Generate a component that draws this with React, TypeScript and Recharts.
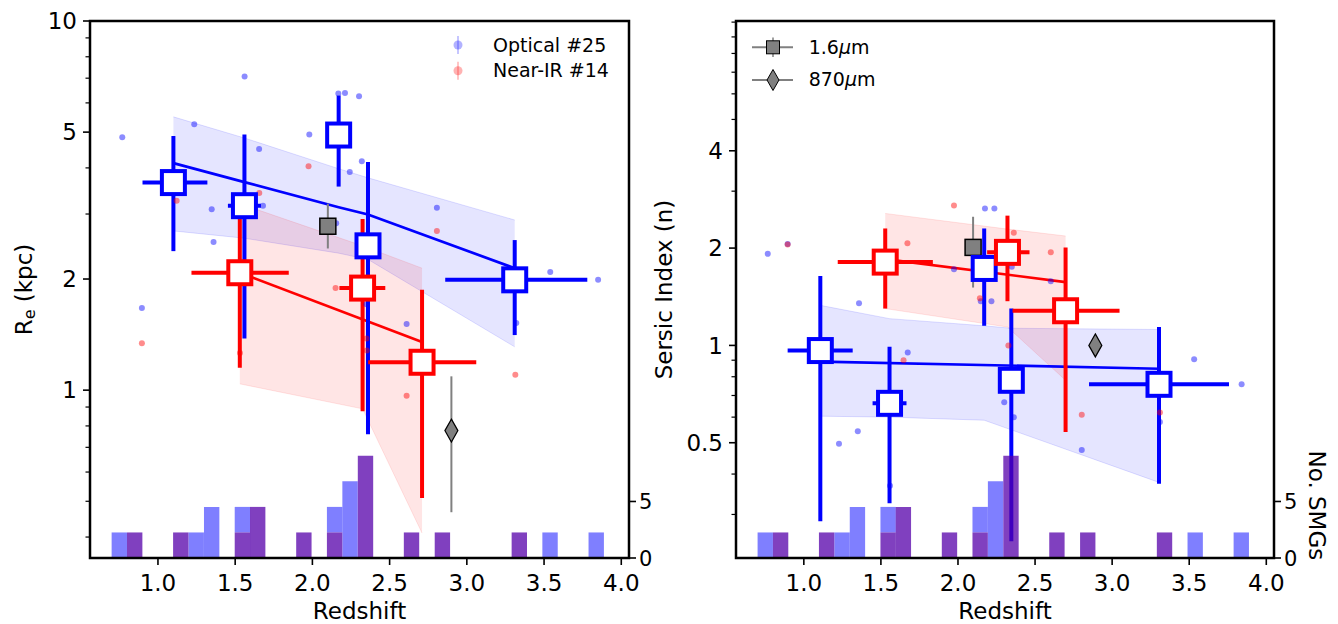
import React from 'react';
import { ComposedChart, XAxis, YAxis, Scatter, Line, Area, ErrorBar, ReferenceArea, Legend } from 'recharts';

const FONT = '"DejaVu Sans", Verdana, sans-serif';
const BLUE = '#0000ff';
const RED = '#ff0000';
const GRAY = '#808080';
const PURPLE = 'rgb(85,0,170)';

// ---------- shared axes ----------
const xTicks = [1.0, 1.5, 2.0, 2.5, 3.0, 3.5, 4.0];
const xDomain: [number, number] = [0.56, 4.05];

// ---------- redshift histograms (right axis "No. SMGs", heights read on that axis) ----------
const histBinWidth = 0.0996;
const histOptStart = [0.7, 0.7996, 1.198, 1.298, 1.497, 2.094, 2.194, 3.489, 3.788];
const histOptHeight = [2.26, 2.26, 2.26, 4.52, 4.52, 4.52, 6.78, 2.26, 2.26];
const histNirStart = [0.7996, 1.098, 1.497, 1.596, 1.895, 2.094, 2.294, 2.592, 2.792, 3.29];
const histNirHeight = [2.26, 2.26, 2.26, 4.52, 2.26, 2.26, 9.04, 2.26, 2.26, 2.26];
const histTicks = [0, 5];
const histDomain: [number, number] = [0, 47.5];

// ---------- left panel: effective radius (kpc) ----------
const reDomain: [number, number] = [0.351, 10];
const reTicks = [0.4, 0.5, 0.6, 0.7, 0.8, 0.9, 1, 2, 3, 4, 5, 6, 7, 8, 9, 10];
const reTickLabels = [1, 2, 5, 10];

const reOptZ = [1.1, 1.56, 2.17, 2.36, 3.31];
const reOpt = [3.65, 3.16, 4.91, 2.46, 1.99];
const reOptLo = [2.38, 1.38, 3.56, 0.76, 1.41];
const reOptHi = [4.88, 4.93, 6.28, 4.15, 2.55];
const reOptZLo = [0.9, 1.453, 2.12, 2.31, 2.86];
const reOptZHi = [1.32, 1.667, 2.22, 2.41, 3.78];

const reNirZ = [1.53, 2.325, 2.71];
const reNir = [2.08, 1.89, 1.19];
const reNirLo = [1.15, 0.877, 0.51];
const reNirHi = [2.91, 2.91, 1.87];
const reNirZLo = [1.217, 2.175, 2.361];
const reNirZHi = [1.847, 2.472, 3.061];

const re16Z = [2.1];
const re16 = [2.78];
const re16Lo = [2.42];
const re16Hi = [3.2];
const re870Z = [2.9];
const re870 = [0.777];
const re870Lo = [0.467];
const re870Hi = [1.09];

const reOptFitZ = [1.1, 1.56, 2.17, 2.36, 3.31];
const reOptFit = [4.12, 3.66, 3.13, 2.99, 2.14];
const reOptBandHi = [5.5, 4.82, 3.98, 3.76, 2.89];
const reOptBandLo = [2.7, 2.58, 2.35, 2.26, 1.31];

const reNirFitZ = [1.53, 2.71];
const reNirFit = [2.08, 1.35];
const reNirBandZ = [1.53, 2.325, 2.71];
const reNirBandHi = [3.2, 2.46, 2.14];
const reNirBandLo = [1.04, 0.89, 0.41];

const reOptDotZ = [0.769, 0.896, 1.235, 1.348, 1.36, 1.561, 1.655, 1.68, 1.98, 2.154, 2.168, 2.211, 2.242, 2.302, 2.32, 2.35, 2.61, 2.806, 3.32, 3.54, 3.85];
const reOptDot = [4.84, 1.67, 5.25, 3.09, 2.52, 7.07, 4.5, 3.16, 4.93, 2.83, 6.36, 6.38, 3.9, 6.25, 4.17, 1.71, 1.51, 3.12, 1.52, 2.09, 1.99];
const reNirDotZ = [0.896, 1.121, 1.531, 1.656, 1.975, 2.15, 2.35, 2.352, 2.61, 2.806, 3.314];
const reNirDot = [1.34, 3.26, 1.26, 3.42, 4.04, 1.89, 1.38, 1.28, 0.965, 2.7, 1.1];

// ---------- right panel: Sersic index ----------
const nDomain: [number, number] = [0.22, 10.08];
const nTicks = [0.3, 0.4, 0.5, 0.6, 0.7, 0.8, 0.9, 1, 2, 3, 4, 5, 6, 7, 8, 9, 10];
const nTickLabels = [0.5, 1, 2, 4];

const nOptZ = [1.107, 1.556, 2.17, 2.346, 3.304];
const nOpt = [0.964, 0.662, 1.73, 0.78, 0.758];
const nOptLo = [0.286, 0.325, 1.15, 0.248, 0.373];
const nOptHi = [1.64, 0.99, 2.3, 1.3, 1.14];
const nOptZLo = [0.895, 1.446, 2.12, 2.3, 2.85];
const nOptZHi = [1.317, 1.666, 2.22, 2.39, 3.758];

const nNirZ = [1.528, 2.321, 2.698];
const nNir = [1.81, 1.94, 1.28];
const nNirLo = [1.3, 1.37, 0.54];
const nNirHi = [2.3, 2.52, 2.01];
const nNirZLo = [1.22, 2.189, 2.354];
const nNirZHi = [1.837, 2.464, 3.048];

const n16Z = [2.098];
const n16 = [2.01];
const n16Lo = [1.51];
const n16Hi = [2.5];
const n870Z = [2.891];
const n870 = [1.0];
const n870Lo = [0.93];
const n870Hi = [1.04];

const nOptFitZ = [1.107, 3.304];
const nOptFit = [0.891, 0.847];
const nOptBandZ = [1.107, 1.556, 2.17, 2.346, 3.304];
const nOptBandHi = [1.33, 1.21, 1.15, 1.13, 1.12];
const nOptBandLo = [0.604, 0.6, 0.587, 0.548, 0.377];

const nNirFitZ = [1.528, 2.698];
const nNirFit = [1.85, 1.57];
const nNirBandZ = [1.528, 2.321, 2.698];
const nNirBandHi = [2.56, 2.29, 2.18];
const nNirBandLo = [1.3, 1.14, 0.78];

const nOptDotZ = [0.766, 0.895, 1.228, 1.35, 1.358, 1.559, 1.674, 1.974, 2.148, 2.175, 2.217, 2.236, 2.3, 2.349, 2.362, 2.602, 2.803, 3.31, 3.532, 3.84];
const nOptDot = [1.92, 2.06, 0.496, 0.543, 1.35, 0.368, 0.95, 1.72, 1.37, 2.65, 1.37, 2.65, 0.667, 1.75, 0.6, 1.58, 0.475, 0.58, 0.906, 0.758];
const nNirDotZ = [0.895, 1.107, 1.647, 1.672, 1.974, 2.142, 2.327, 2.362, 2.602, 2.803, 3.31];
const nNirDot = [2.05, 1.03, 0.9, 2.07, 2.71, 1.4, 1.0, 2.23, 1.94, 0.61, 0.62];

// ---------- helpers to build library data ----------
const pts = (z: number[], v: number[]) => z.map((x, i) => ({ x, y: v[i] }));
const band = (z: number[], lo: number[], hi: number[]) => z.map((x, i) => ({ x, range: [lo[i], hi[i]] }));
const med = (z: number[], v: number[], zlo: number[], zhi: number[], lo: number[], hi: number[]) =>
  z.map((x, i) => ({ x, y: v[i], ex: [x - zlo[i], zhi[i] - x], ey: [v[i] - lo[i], hi[i] - v[i]] }));
const nirAt = (s: number) => {
  const i = histNirStart.findIndex((t) => Math.abs(t - s) < 1e-6);
  return i >= 0 ? histNirHeight[i] : 0;
};

// ---------- shapes & ticks ----------
const NoShape = () => <g />;
const squareShape = (color: string) => (p: any) => (
  <rect x={p.cx - 11.5} y={p.cy - 11.5} width={23} height={23} fill="#fff" stroke={color} strokeWidth={4} />
);
const GraySquare = (p: any) => (
  <rect x={p.cx - 8} y={p.cy - 8} width={16} height={16} fill={GRAY} stroke="#000" strokeWidth={1.5} />
);
const GrayDiamond = (p: any) => (
  <polygon
    points={`${p.cx},${p.cy - 11.5} ${p.cx + 6.5},${p.cy} ${p.cx},${p.cy + 11.5} ${p.cx - 6.5},${p.cy}`}
    fill={GRAY}
    stroke="#000"
    strokeWidth={1.2}
  />
);
const Dot = (color: string) => (p: any) => <circle cx={p.cx} cy={p.cy} r={3} fill={color} fillOpacity={0.45} />;

function LogTick(props: any) {
  const { x, y, payload, labels } = props;
  const v = payload.value;
  const isLab = labels.includes(v);
  const len = isLab ? 7 : 4.5;
  return (
    <g>
      <line x1={x - len} x2={x} y1={y} y2={y} stroke="#000" strokeWidth={isLab ? 1.6 : 1.2} />
      {isLab && (
        <text x={x - len - 6} y={y} dy="0.36em" textAnchor="end" fontSize={23} fontFamily={FONT} fill="#000">
          {String(v)}
        </text>
      )}
    </g>
  );
}
function HistTick(props: any) {
  const { x, y, payload } = props;
  return (
    <g>
      <line x1={x} x2={x + 7} y1={y} y2={y} stroke="#000" strokeWidth={1.6} />
      <text x={x + 10} y={y} dy="0.36em" textAnchor="start" fontSize={21} fontFamily={FONT} fill="#000">
        {String(payload.value)}
      </text>
    </g>
  );
}
function XTick(props: any) {
  const { x, y, payload } = props;
  return (
    <g>
      <line x1={x} x2={x} y1={y} y2={y + 7} stroke="#000" strokeWidth={1.6} />
      <text x={x} y={y + 33} textAnchor="middle" fontSize={23} fontFamily={FONT} fill="#000">
        {Number(payload.value).toFixed(1)}
      </text>
    </g>
  );
}

const legendLeftItems = [
  { label: 'Optical #25', color: BLUE },
  { label: 'Near-IR #14', color: RED },
];

function LeftLegend() {
  return (
    <svg width={200} height={62} style={{ overflow: 'visible', display: 'block' }}>
      {legendLeftItems.map((it, i) => {
        const cy = 15 + i * 25.7;
        return (
          <g key={it.label}>
            <line x1={18} x2={18} y1={cy - 9} y2={cy + 9} stroke={it.color} strokeOpacity={0.3} strokeWidth={1.5} />
            <circle cx={18} cy={cy} r={4.5} fill={it.color} fillOpacity={0.3} />
            <text x={53} y={cy + 6.7} fontSize={19} fontFamily={FONT} fill="#000">
              {it.label}
            </text>
          </g>
        );
      })}
    </svg>
  );
}

function RightLegend() {
  return (
    <svg width={200} height={70} style={{ overflow: 'visible', display: 'block' }}>
      <line x1={12} x2={53} y1={17.3} y2={17.3} stroke={GRAY} strokeWidth={2} />
      <line x1={33} x2={33} y1={7.5} y2={27} stroke={GRAY} strokeWidth={1.5} />
      <rect x={33 - 6.5} y={17.3 - 6.5} width={13} height={13} fill={GRAY} stroke="#000" strokeWidth={1} />
      <text x={68.7} y={24.3} fontSize={19} fontFamily={FONT} fill="#000">
        1.6<tspan fontStyle="italic">μ</tspan>m
      </text>
      <line x1={12} x2={53} y1={50} y2={50} stroke={GRAY} strokeWidth={2} />
      <polygon points={`33,39.5 39,50 33,60.5 27,50`} fill={GRAY} stroke="#000" strokeWidth={1} />
      <text x={68.7} y={55.7} fontSize={19} fontFamily={FONT} fill="#000">
        870<tspan fontStyle="italic">μ</tspan>m
      </text>
    </svg>
  );
}

type PanelProps = {
  width: number;
  yAxisWidth: number;
  hAxisWidth: number;
  yDomain: [number, number];
  yTicks: number[];
  yTickLabels: number[];
  yLabel: (cx: number, cy: number) => React.ReactNode;
  showHistLabel: boolean;
  optBand: any[];
  nirBand: any[];
  optFit: any[];
  nirFit: any[];
  optDots: any[];
  nirDots: any[];
  optMed: any[];
  nirMed: any[];
  m16: any[];
  m870: any[];
  legend: React.ReactNode;
  legendLeft: number;
};

function Panel(p: PanelProps) {
  const H = 624;
  return (
    <ComposedChart width={p.width} height={H} margin={{ top: 21, right: 0, bottom: 0, left: 0 }} style={{ fontFamily: FONT }}>
      <XAxis
        type="number"
        dataKey="x"
        domain={xDomain}
        allowDataOverflow
        ticks={xTicks}
        interval={0}
        height={66}
        tickSize={0}
        tickMargin={0}
        tickLine={false}
        axisLine={false}
        tick={<XTick />}
        label={{
          content: (props: any) => {
            const vb = props.viewBox || {};
            return (
              <text x={vb.x + vb.width / 2} y={vb.y + 61} textAnchor="middle" fontSize={23} fontFamily={FONT} fill="#000">
                Redshift
              </text>
            );
          },
        }}
      />
      <YAxis
        yAxisId="l"
        type="number"
        dataKey="y"
        scale="log"
        domain={p.yDomain}
        allowDataOverflow
        ticks={p.yTicks}
        interval={0}
        width={p.yAxisWidth}
        tickSize={0}
        tickMargin={0}
        tickLine={false}
        axisLine={false}
        tick={<LogTick labels={p.yTickLabels} />}
        label={{
          content: (props: any) => {
            const vb = props.viewBox || {};
            return p.yLabel(vb.x + 23.5, vb.y + vb.height / 2);
          },
        }}
      />
      <YAxis
        yAxisId="h"
        orientation="right"
        type="number"
        domain={histDomain}
        allowDataOverflow
        ticks={histTicks}
        interval={0}
        width={p.hAxisWidth}
        tickSize={0}
        tickMargin={0}
        tickLine={false}
        axisLine={false}
        tick={<HistTick />}
        label={
          p.showHistLabel
            ? {
                content: (props: any) => {
                  const vb = props.viewBox || {};
                  const cx = vb.x + 43;
                  const cy = 505.4;
                  return (
                    <text
                      x={cx}
                      y={cy}
                      transform={`rotate(90, ${cx}, ${cy})`}
                      textAnchor="middle"
                      dominantBaseline="central"
                      fontSize={23}
                      fontFamily={FONT}
                      fill="#000"
                    >
                      No. SMGs
                    </text>
                  );
                },
              }
            : undefined
        }
      />

      <Area yAxisId="l" data={p.optBand} dataKey="range" type="linear" fill={BLUE} fillOpacity={0.1} stroke={BLUE} strokeOpacity={0.12} strokeWidth={1} dot={false} activeDot={false} isAnimationActive={false} />
      <Area yAxisId="l" data={p.nirBand} dataKey="range" type="linear" fill={RED} fillOpacity={0.1} stroke={RED} strokeOpacity={0.1} strokeWidth={1} dot={false} activeDot={false} isAnimationActive={false} />

      <Scatter yAxisId="l" data={p.optDots} shape={Dot(BLUE)} isAnimationActive={false} />
      <Scatter yAxisId="l" data={p.nirDots} shape={Dot(RED)} isAnimationActive={false} />

      <Line yAxisId="l" data={p.optFit} dataKey="y" type="linear" stroke={BLUE} strokeWidth={2.7} dot={false} activeDot={false} isAnimationActive={false} />
      <Line yAxisId="l" data={p.nirFit} dataKey="y" type="linear" stroke={RED} strokeWidth={2.7} dot={false} activeDot={false} isAnimationActive={false} />

      <Scatter yAxisId="l" data={p.m16} shape={NoShape} isAnimationActive={false}>
        <ErrorBar dataKey="ey" direction="y" width={0} stroke={GRAY} strokeWidth={2} />
      </Scatter>
      <Scatter yAxisId="l" data={p.m870} shape={NoShape} isAnimationActive={false}>
        <ErrorBar dataKey="ey" direction="y" width={0} stroke={GRAY} strokeWidth={2} />
      </Scatter>
      <Scatter yAxisId="l" data={p.optMed} shape={NoShape} isAnimationActive={false}>
        <ErrorBar dataKey="ey" direction="y" width={0} stroke={BLUE} strokeWidth={4} />
        <ErrorBar dataKey="ex" direction="x" width={0} stroke={BLUE} strokeWidth={4} />
      </Scatter>
      <Scatter yAxisId="l" data={p.nirMed} shape={NoShape} isAnimationActive={false}>
        <ErrorBar dataKey="ey" direction="y" width={0} stroke={RED} strokeWidth={4} />
        <ErrorBar dataKey="ex" direction="x" width={0} stroke={RED} strokeWidth={4} />
      </Scatter>

      <Scatter yAxisId="l" data={p.m16} shape={GraySquare} isAnimationActive={false} />
      <Scatter yAxisId="l" data={p.m870} shape={GrayDiamond} isAnimationActive={false} />
      <Scatter yAxisId="l" data={p.optMed} shape={squareShape(BLUE)} isAnimationActive={false} />
      <Scatter yAxisId="l" data={p.nirMed} shape={squareShape(RED)} isAnimationActive={false} />

      {histOptStart.map((s, i) => {
        const base = nirAt(s);
        if (histOptHeight[i] <= base) return null;
        return (
          <ReferenceArea
            key={'o' + i}
            yAxisId="h"
            x1={s}
            x2={s + histBinWidth}
            y1={base}
            y2={histOptHeight[i]}
            fill={BLUE}
            fillOpacity={0.5}
            stroke="none"
            ifOverflow="visible"
            zIndex={1500}
          />
        );
      })}
      {histNirStart.map((s, i) => (
        <ReferenceArea
          key={'n' + i}
          yAxisId="h"
          x1={s}
          x2={s + histBinWidth}
          y1={0}
          y2={histNirHeight[i]}
          fill={PURPLE}
          fillOpacity={0.75}
          stroke="none"
          ifOverflow="visible"
          zIndex={1500}
        />
      ))}
      <ReferenceArea
        yAxisId="l"
        x1={xDomain[0]}
        x2={xDomain[1]}
        y1={p.yDomain[0]}
        y2={p.yDomain[1]}
        fill="none"
        stroke="#000"
        strokeWidth={2.5}
        ifOverflow="visible"
        zIndex={2000}
      />
      <Legend
        layout="horizontal"
        align="center"
        verticalAlign="middle"
        content={() => p.legend}
        wrapperStyle={{ position: 'absolute', left: p.legendLeft, top: 30, width: 200, height: 70 }}
      />
    </ComposedChart>
  );
}

const ReLabel = (cx: number, cy: number) => (
  <text x={cx} y={cy} transform={`rotate(-90, ${cx}, ${cy})`} textAnchor="middle" dominantBaseline="central" fontSize={23} fontFamily={FONT} fill="#000">
    <tspan>R</tspan>
    <tspan fontSize={16} dy={5}>e</tspan>
    <tspan dy={-5}> (kpc)</tspan>
  </text>
);
const NLabel = (cx: number, cy: number) => (
  <text x={cx} y={cy} transform={`rotate(-90, ${cx}, ${cy})`} textAnchor="middle" dominantBaseline="central" fontSize={23} fontFamily={FONT} fill="#000">
    Sersic Index (n)
  </text>
);

export default function App() {
  return (
    <div style={{ position: 'absolute', left: 0, top: 0, width: 1338, height: 624, background: '#fff', overflow: 'hidden' }}>
      <div style={{ position: 'absolute', left: 0, top: 0 }}>
        <Panel
          width={670}
          yAxisWidth={90}
          hAxisWidth={41}
          yDomain={reDomain}
          yTicks={reTicks}
          yTickLabels={reTickLabels}
          yLabel={ReLabel}
          showHistLabel={false}
          optBand={band(reOptFitZ, reOptBandLo, reOptBandHi)}
          nirBand={band(reNirBandZ, reNirBandLo, reNirBandHi)}
          optFit={pts(reOptFitZ, reOptFit)}
          nirFit={pts(reNirFitZ, reNirFit)}
          optDots={pts(reOptDotZ, reOptDot)}
          nirDots={pts(reNirDotZ, reNirDot)}
          optMed={med(reOptZ, reOpt, reOptZLo, reOptZHi, reOptLo, reOptHi)}
          nirMed={med(reNirZ, reNir, reNirZLo, reNirZHi, reNirLo, reNirHi)}
          m16={med(re16Z, re16, re16Z, re16Z, re16Lo, re16Hi)}
          m870={med(re870Z, re870, re870Z, re870Z, re870Lo, re870Hi)}
          legend={<LeftLegend />}
          legendLeft={440}
        />
      </div>
      <div style={{ position: 'absolute', left: 640, top: 0 }}>
        <Panel
          width={698}
          yAxisWidth={96}
          hAxisWidth={64}
          yDomain={nDomain}
          yTicks={nTicks}
          yTickLabels={nTickLabels}
          yLabel={NLabel}
          showHistLabel={true}
          optBand={band(nOptBandZ, nOptBandLo, nOptBandHi)}
          nirBand={band(nNirBandZ, nNirBandLo, nNirBandHi)}
          optFit={pts(nOptFitZ, nOptFit)}
          nirFit={pts(nNirFitZ, nNirFit)}
          optDots={pts(nOptDotZ, nOptDot)}
          nirDots={pts(nNirDotZ, nNirDot)}
          optMed={med(nOptZ, nOpt, nOptZLo, nOptZHi, nOptLo, nOptHi)}
          nirMed={med(nNirZ, nNir, nNirZLo, nNirZHi, nNirLo, nNirHi)}
          m16={med(n16Z, n16, n16Z, n16Z, n16Lo, n16Hi)}
          m870={med(n870Z, n870, n870Z, n870Z, n870Lo, n870Hi)}
          legend={<RightLegend />}
          legendLeft={100}
        />
      </div>
    </div>
  );
}
